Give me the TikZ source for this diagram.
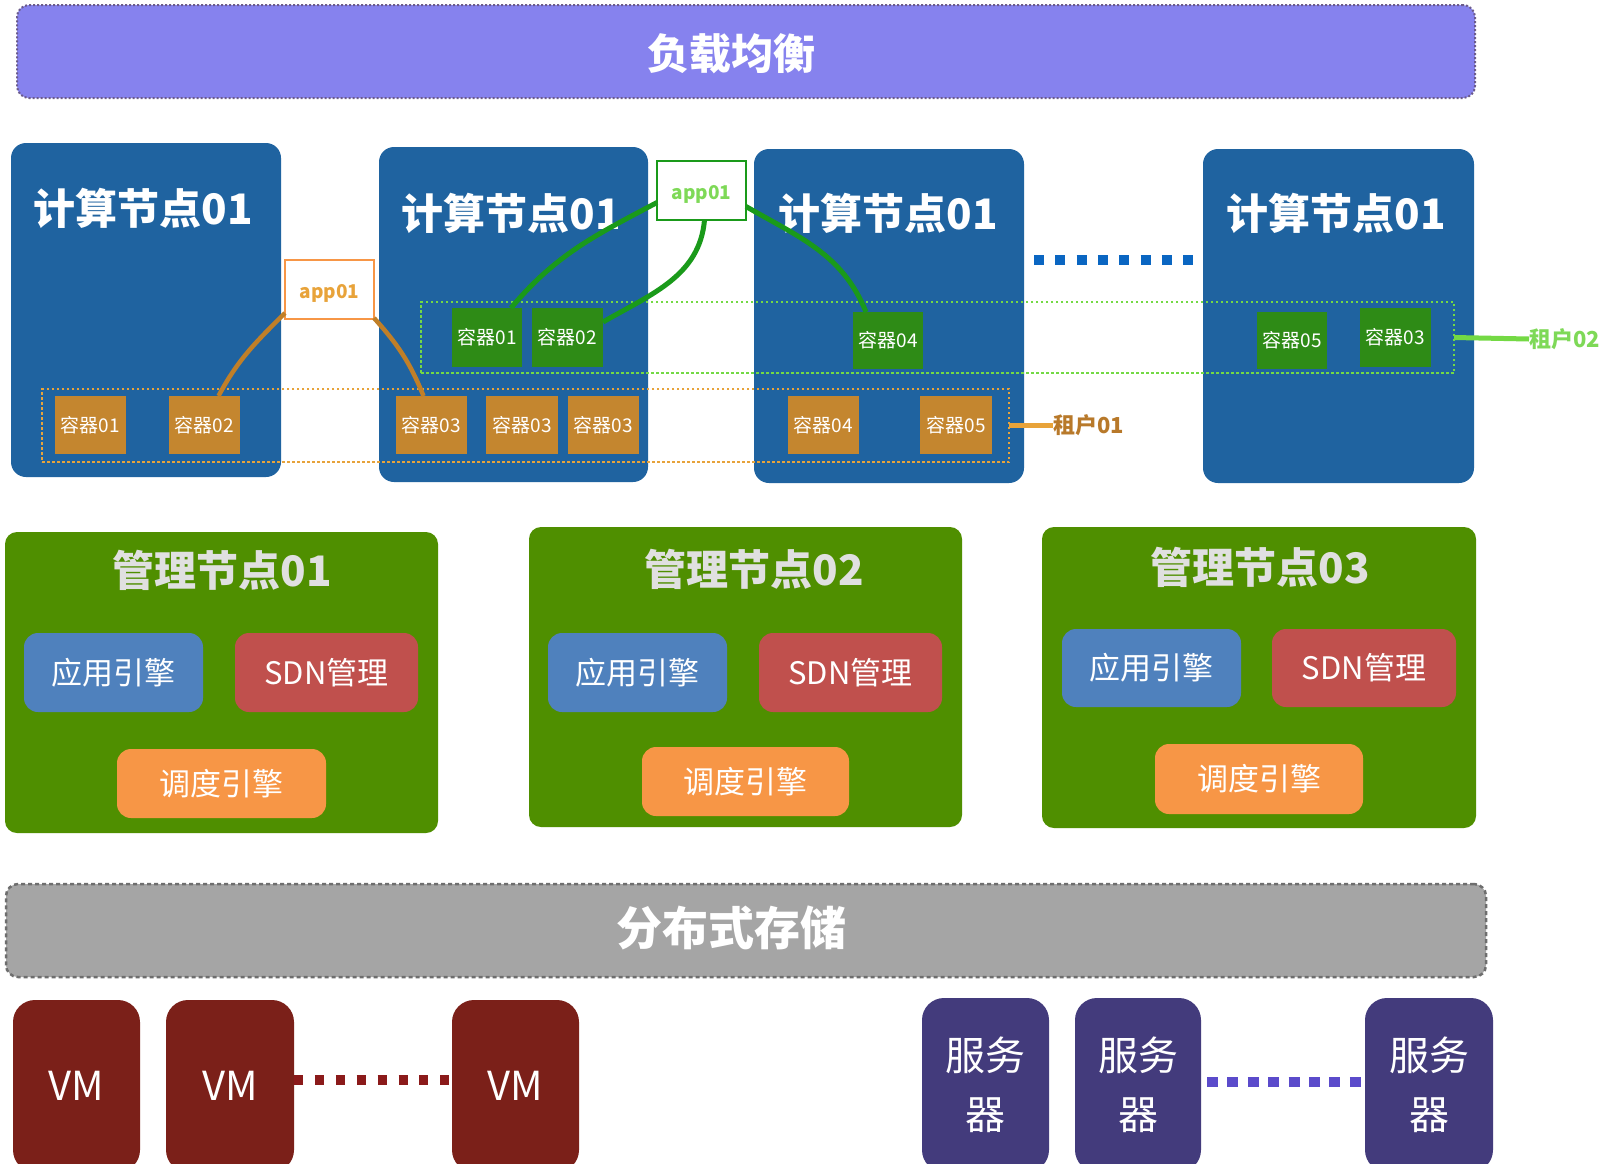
\documentclass[tikz,border=0pt]{standalone}
\usepackage{fontspec}
\setmainfont{Noto Sans CJK SC}
\usetikzlibrary{fit}
\definecolor{lbfill}{HTML}{8682EE}
\definecolor{lbborder}{HTML}{6B5B8B}
\definecolor{compblue}{HTML}{1F63A0}
\definecolor{ocont}{HTML}{C4862F}
\definecolor{gcont}{HTML}{2E8B16}
\definecolor{tenO}{HTML}{E8A33A}
\definecolor{tenOtext}{HTML}{B8792A}
\definecolor{tenG}{HTML}{74D944}
\definecolor{appOborder}{HTML}{F79646}
\definecolor{appOtext}{HTML}{E8A33A}
\definecolor{appGborder}{HTML}{1A9A1A}
\definecolor{appGtext}{HTML}{7ED957}
\definecolor{curveO}{HTML}{C07F28}
\definecolor{curveG}{HTML}{1A9A1A}
\definecolor{mgmtgreen}{HTML}{4F8F00}
\definecolor{mtitle}{HTML}{E0E0E0}
\definecolor{engblue}{HTML}{4F81BD}
\definecolor{engred}{HTML}{C0504D}
\definecolor{engorange}{HTML}{F79646}
\definecolor{storgray}{HTML}{A5A5A5}
\definecolor{storborder}{HTML}{6E6E6E}
\definecolor{vmred}{HTML}{7B2019}
\definecolor{vmdots}{HTML}{8B1A1A}
\definecolor{srvpurple}{HTML}{433B7C}
\definecolor{srvdots}{HTML}{5B4BCB}
\definecolor{bluedash}{HTML}{0A66C2}
\begin{document}
\begin{tikzpicture}[x=1pt,y=-1pt,
  every node/.style={inner sep=0pt,outer sep=0pt},
  sz/.style 2 args={minimum width=#1pt,minimum height=#2pt},
  lbbox/.style={fill=lbfill,draw=lbborder,line width=2pt,dash pattern=on 2pt off 2pt,rounded corners=12pt},
  bigtext/.style={text=white,font=\fontsize{42}{50}\selectfont\bfseries},
  compbox/.style={fill=compblue,rounded corners=15pt},
  comptitle/.style={text=white,font=\fontsize{42}{50}\selectfont\bfseries},
  ocontbox/.style={fill=ocont,text=white,font=\fontsize{19}{22}\selectfont},
  gcontbox/.style={fill=gcont,text=white,font=\fontsize{19}{22}\selectfont},
  appObox/.style={draw=appOborder,line width=2.5pt,fill=white},
  appGbox/.style={draw=appGborder,line width=2.5pt,fill=white},
  apptext/.style={font=\fontsize{19}{22}\selectfont\bfseries},
  tenOrect/.style={draw=tenO,line width=2.5pt,dash pattern=on 2.5pt off 2.5pt},
  tenGrect/.style={draw=tenG,line width=2.5pt,dash pattern=on 2.5pt off 2.5pt},
  mgmtbox/.style={fill=mgmtgreen,rounded corners=12pt},
  mgmttitle/.style={text=mtitle,font=\fontsize{42}{50}\selectfont\bfseries},
  engbox/.style={rounded corners=14pt,text=white,font=\fontsize{31}{36}\selectfont},
  storbox/.style={fill=storgray,draw=storborder,line width=2.5pt,dash pattern=on 4pt off 3pt,rounded corners=12pt},
  vmbox/.style={fill=vmred,rounded corners=22pt,text=white,font=\fontsize{40}{48}\selectfont},
  srvbox/.style={fill=srvpurple,rounded corners=22pt,text=white,align=center,font=\fontsize{40}{59}\selectfont},
  curveOline/.style={draw=curveO,line width=4.5pt},
  curveGline/.style={draw=curveG,line width=5pt},
]
\path[use as bounding box,clip] (0,0) rectangle (1614,1163);
\fill[white] (0,0) rectangle (1614,1163);

% load balancer
\node[lbbox,fit={(17,5)(1475,98)}] (lb) {};
\node[bigtext] (lbt) at (731,54) {负载均衡};

% compute nodes
\node[compbox,fit={(11,143)(281,477)}] (c1) {};
\node[compbox,fit={(379,147)(648,482)}] (c2) {};
\node[compbox,fit={(754,149)(1024,483)}] (c3) {};
\node[compbox,fit={(1203,149)(1474,483)}] (c4) {};
\node[comptitle] (c1t) at (143,208) {计算节点01};
\node[comptitle] (c2t) at (511,213) {计算节点01};
\node[comptitle] (c3t) at (888,213) {计算节点01};
\node[comptitle] (c4t) at (1336,213) {计算节点01};

\draw[draw=bluedash,line width=10pt,dash pattern=on 10pt off 11.3pt]
  ([xshift=10pt,yshift=56pt]c3.east) -- ([xshift=-10pt,yshift=56pt]c4.west);

% tenant rectangles
\node[tenOrect,fit={(42,389)(1009,462)}] (t1) {};
\node[tenGrect,fit={(421,302)(1454,373)}] (t2) {};
\node[anchor=west,text=tenOtext,font=\fontsize{22}{26}\selectfont\bfseries] (t1l) at (1053,425.5) {租户01};
\node[anchor=west,text=appGtext,font=\fontsize{22}{26}\selectfont\bfseries] (t2l) at (1529,339) {租户02};
\draw[draw=tenO,line width=5pt] (t1.east) -- (t1l.west);
\draw[draw=tenG,line width=5pt] (t2.east) -- (t2l.west);

% orange containers
\node[ocontbox,sz={71}{58}] (oc1) at (90.5,425) {容器01};
\node[ocontbox,sz={71}{58}] (oc2) at (204.5,425) {容器02};
\node[ocontbox,sz={71}{58}] (oc3) at (431.5,425) {容器03};
\node[ocontbox,sz={72}{58}] (oc4) at (522,425) {容器03};
\node[ocontbox,sz={71}{58}] (oc5) at (603.5,425) {容器03};
\node[ocontbox,sz={71}{58}] (oc6) at (823.5,425) {容器04};
\node[ocontbox,sz={72}{58}] (oc7) at (956,425) {容器05};

% green containers
\node[gcontbox,sz={70}{59}] (gc1) at (487,337.5) {容器01};
\node[gcontbox,sz={71}{59}] (gc2) at (567.5,337.5) {容器02};
\node[gcontbox,sz={70}{57}] (gc3) at (888,340.5) {容器04};
\node[gcontbox,sz={70}{57}] (gc4) at (1292,340.5) {容器05};
\node[gcontbox,sz={71}{59}] (gc5) at (1395.5,337.5) {容器03};

% app boxes
\node[appObox,sz={89}{59}] (appO) at (329.5,289.5) {};
\node[appGbox,sz={89}{59}] (appG) at (701.5,190.5) {};
\node[apptext,text=appOtext] (appOt) at (329.5,293) {app01};
\node[apptext,text=appGtext] (appGt) at (701.5,194) {app01};

% curves
\draw[curveOline] ([yshift=6pt]appO.south west) to[out=225,in=62] ([xshift=14pt]oc2.north);
\draw[curveOline] ([yshift=1pt]appO.south east) to[out=-48,in=112] ([xshift=-8pt]oc3.north);
\draw[curveGline] ([yshift=-12pt]appG.west) to[out=208,in=50] ([xshift=24pt]gc1.north);
\draw[curveGline] ([xshift=3pt]appG.south) to[out=-95,in=30] ([yshift=-14pt]gc2.north east);
\draw[curveGline] ([yshift=-16pt]appG.east) to[out=-30,in=112] ([xshift=-22pt]gc3.north);

% management nodes
\node[mgmtbox,fit={(5,532)(438,833)}] (m1) {};
\node[mgmtbox,fit={(529,527)(962,827)}] (m2) {};
\node[mgmtbox,fit={(1042,527)(1476,828)}] (m3) {};
\node[mgmttitle] (m1t) at (222,570) {管理节点01};
\node[mgmttitle] (m2t) at (754,569) {管理节点02};
\node[mgmttitle] (m3t) at (1260,567) {管理节点03};

\node[engbox,fill=engblue,sz={179}{79}] (m1a) at (113.5,672.5) {应用引擎};
\node[engbox,fill=engred,sz={183}{79}] (m1s) at (326.5,672.5) {SDN管理};
\node[engbox,fill=engorange,sz={209}{69}] (m1d) at (221.5,783.5) {调度引擎};
\node[engbox,fill=engblue,sz={179}{79}] (m2a) at (637.5,672.5) {应用引擎};
\node[engbox,fill=engred,sz={183}{79}] (m2s) at (850.5,672.5) {SDN管理};
\node[engbox,fill=engorange,sz={207}{69}] (m2d) at (745.5,781.5) {调度引擎};
\node[engbox,fill=engblue,sz={179}{78}] (m3a) at (1151.5,668) {应用引擎};
\node[engbox,fill=engred,sz={184}{78}] (m3s) at (1364,668) {SDN管理};
\node[engbox,fill=engorange,sz={208}{70}] (m3d) at (1259,779) {调度引擎};

% storage
\node[storbox,fit={(6,884)(1486,977)}] (st) {};
\node[bigtext,font=\fontsize{46}{54}\selectfont\bfseries] (stt) at (731,928) {分布式存储};

% VMs
\node[vmbox,sz={127}{172}] (vm1) at (76.5,1086) {VM};
\node[vmbox,sz={128}{172}] (vm2) at (230,1086) {VM};
\node[vmbox,sz={127}{172}] (vm3) at (515.5,1086) {VM};
\draw[draw=vmdots,line width=10pt,dash pattern=on 9pt off 11.9pt]
  ([yshift=6pt]vm2.east) -- ([yshift=6pt]vm3.west);

% servers
\node[srvbox,sz={127}{174}] (s1) at (985.5,1085) {服务\\器};
\node[srvbox,sz={126}{174}] (s2) at (1138,1085) {服务\\器};
\node[srvbox,sz={128}{174}] (s3) at (1429,1085) {服务\\器};
\draw[draw=srvdots,line width=10pt,dash pattern=on 11pt off 9.4pt]
  ([xshift=6pt,yshift=3pt]s2.east) -- ([xshift=-4pt,yshift=3pt]s3.west);
\end{tikzpicture}
\end{document}
